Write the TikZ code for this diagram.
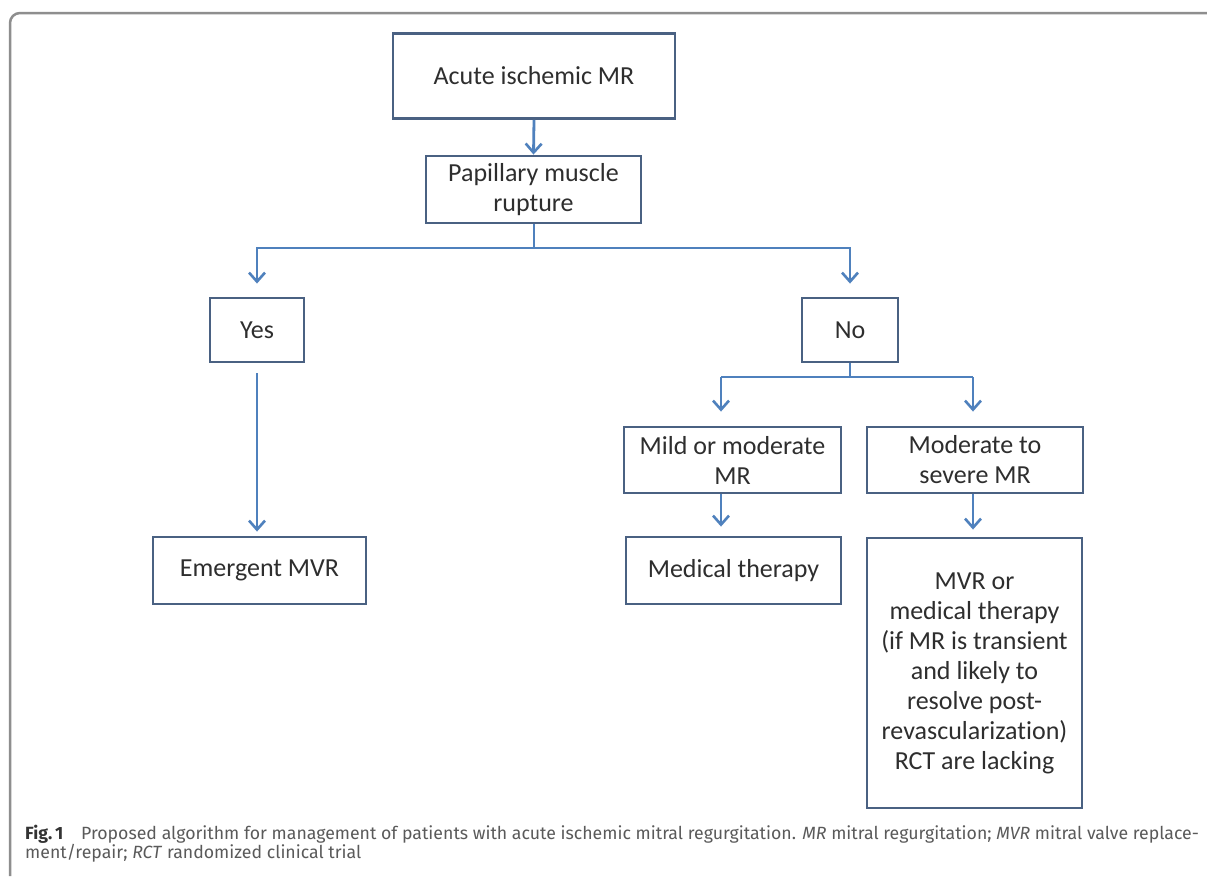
\documentclass[tikz,border=0pt]{standalone}
\usepackage{fontspec}
\setmainfont{Carlito}[Ligatures=NoCommon]
\newfontfamily\capfont{Fira Sans}
\usetikzlibrary{arrows.meta}
\definecolor{boxline}{HTML}{4A6182}
\definecolor{connc}{HTML}{4F81BD}
\definecolor{txt}{HTML}{2E2E2E}
\definecolor{framec}{HTML}{8E8E8E}
\definecolor{captxt}{HTML}{5A5A5A}
\begin{document}
\begin{tikzpicture}[x=1pt,y=-1pt,
  box/.style={draw=boxline, line width=2.9pt, fill=white, rectangle, inner sep=0pt,
    align=center, text=txt, font=\fontsize{26}{30}\selectfont},
  link/.style={draw=connc, line width=2.8pt},
  arr/.style={link, -{Straight Barb[length=9pt,width=16pt,line width=2.6pt]}},
  captext/.style={anchor=base west, inner sep=0pt, text=captxt, font=\capfont\fontsize{17.7}{19}\selectfont}
]
\useasboundingbox (0,0) rectangle (1207,876);
\fill[white] (0,0) rectangle (1207,876);
% outer frame
\draw[framec, line width=2.5pt, rounded corners=10pt] (10,876) -- (10,13) -- (1207,13);

% nodes
\node[box, minimum width=282pt, minimum height=85pt] (acute) at (534,76) {Acute ischemic MR};
\node[box, minimum width=215pt, minimum height=67pt] (pap) at (533.5,189.5) {Papillary muscle\\rupture};
\node[box, minimum width=94pt, minimum height=64pt] (yes) at (257,330) {Yes};
\node[box, minimum width=96pt, minimum height=64pt] (no) at (850,330) {No};
\node[box, minimum width=213pt, minimum height=67pt] (emerg) at (259.5,570.5) {Emergent MVR};
\node[box, minimum width=217pt, minimum height=66pt] (mild) at (732.5,460) {Mild or moderate\\MR};
\node[box, minimum width=216pt, minimum height=66pt] (mod) at (975,460) {Moderate to\\severe MR};
\node[box, minimum width=215pt, minimum height=67pt] (medt) at (733.5,570.5) {Medical therapy};
\node[box, minimum width=215pt, minimum height=270pt] (mvr) at (974.5,673)
  {MVR or\\medical therapy\\(if MR is transient\\and likely to\\resolve post-\\revascularization)\\RCT are lacking};

% junctions
\coordinate (j1) at (534,248);
\coordinate (j2) at (850,377);
\coordinate (jl) at (721,377);
\coordinate (jr) at (973,377);

% connectors
\draw[arr] (acute.south) -- (pap.north);
\draw[link] (pap.south -| j1) -- (j1);
\draw[arr, shorten >=13pt] (j1) -| (yes.north);
\draw[arr, shorten >=13pt] (j1) -| (no.north);
\draw[arr, shorten <=10pt, shorten >=4pt] (yes.south) -- (yes.south |- emerg.north);
\draw[link] (no.south) -- (j2);
\draw[link] (jl) -- (jr);
\draw[arr, shorten >=14pt] (jl) -- (jl |- mild.north);
\draw[arr, shorten >=14pt] (jr) -- (jr |- mod.north);
\draw[arr, shorten >=9pt] (jl |- mild.south) -- (jl |- medt.north);
\draw[arr, shorten >=7pt] (jr |- mod.south) -- (jr |- mvr.north);

% caption
\node[captext] (cap1) at (25,839.5) {{\color{black!80}\textbf{Fig.\,1}}\quad Proposed algorithm for management of patients with acute ischemic mitral regurgitation. \textit{MR} mitral regurgitation; \textit{MVR} mitral valve replace-};
\node[captext] (cap2) at (25,858.5) {ment/repair; \textit{RCT} randomized clinical trial};
\end{tikzpicture}
\end{document}
